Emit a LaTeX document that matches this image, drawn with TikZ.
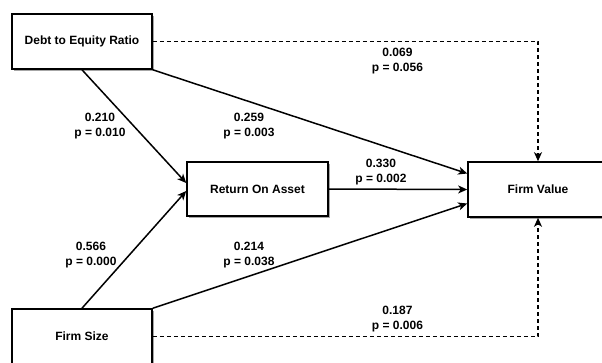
\documentclass[tikz,border=0pt]{standalone}
\usepackage{fontspec}
\setmainfont{Liberation Sans}
\usetikzlibrary{arrows.meta,shadows}
\begin{document}
\begin{tikzpicture}[x=1pt,y=-1pt,
  box/.style={draw=black,line width=1.6pt,fill=white,minimum width=140pt,minimum height=55pt,inner sep=0pt,
    font=\fontsize{12}{15}\selectfont\bfseries,
    drop shadow={shadow xshift=1.5pt,shadow yshift=-1.5pt,opacity=0.35,fill=black}},
  lbl/.style={align=center,inner sep=0pt,font=\fontsize{12}{15}\selectfont\bfseries},
  arr/.style={line width=1.5pt,-{Stealth[length=9pt,width=8pt,inset=2.5pt]}},
  darr/.style={arr,dash pattern=on 4pt off 3pt}]
\useasboundingbox (0,0) rectangle (602,362);
\fill[white] (0,0) rectangle (602,362);
\node[box] (debt) at (82,41.5) {Debt to Equity Ratio};
\node[box,minimum width=141pt,minimum height=54pt] (roa) at (257.5,189) {Return On Asset};
\node[box] (fv) at (538,189.5) {Firm Value};
\node[box] (size) at (82,336.5) {Firm Size};
\draw[arr] (debt.south) -- ([yshift=6pt]roa.west);
\draw[arr] (size.north) -- ([yshift=-2pt]roa.west);
\draw[arr] (debt.south east) -- ([yshift=16pt]fv.west);
\draw[arr] (roa.east) -- (fv.west);
\draw[arr] (size.north east) -- ([yshift=-14pt]fv.west);
\draw[darr] (debt.east) -| (fv.north);
\draw[darr] (size.east) -| (fv.south);
\node[lbl] (l1) at (100,126) {0.210\\p = 0.010};
\node[lbl] (l2) at (249,126) {0.259\\p = 0.003};
\node[lbl] (l3) at (397.5,61) {0.069\\p = 0.056};
\node[lbl] (l4) at (381,172) {0.330\\p = 0.002};
\node[lbl] (l5) at (91,255) {0.566\\p = 0.000};
\node[lbl] (l6) at (249,255) {0.214\\p = 0.038};
\node[lbl] (l7) at (397.5,319) {0.187\\p = 0.006};
\end{tikzpicture}
\end{document}
